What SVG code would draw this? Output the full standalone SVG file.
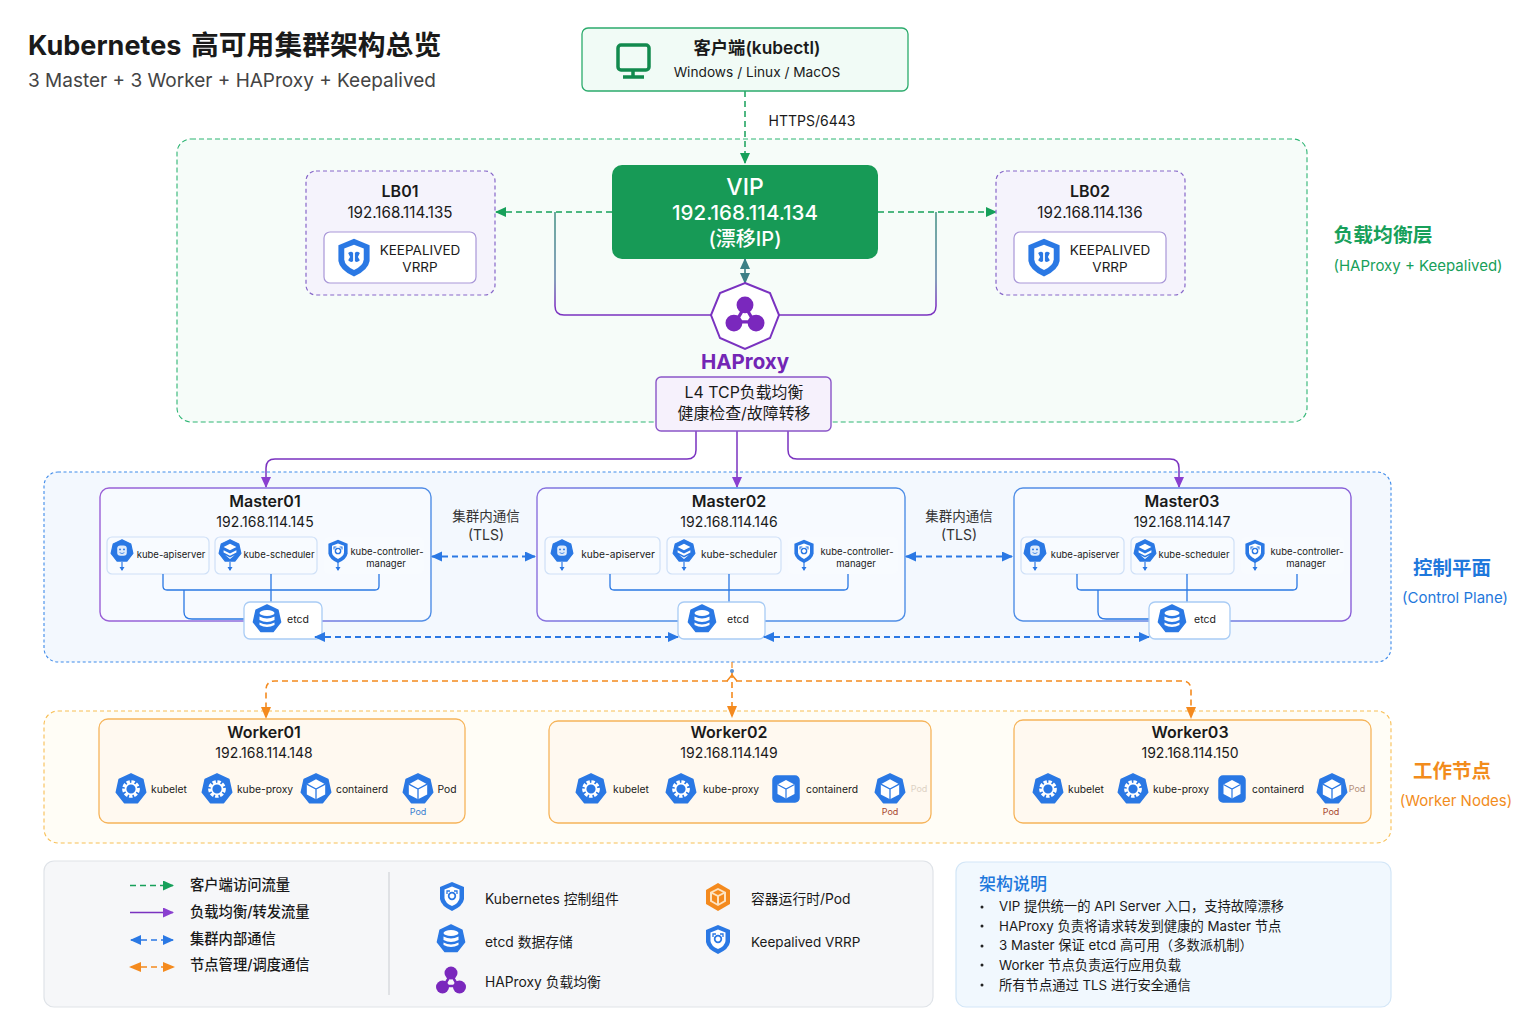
<svg xmlns="http://www.w3.org/2000/svg" width="1536" height="1024" viewBox="0 0 1536 1024">
<style>
text{font-family:"Inter","Noto Sans CJK SC",sans-serif;fill:#1a1a1a;text-anchor:middle}
.title{font-size:16px;font-weight:600}
.ip{font-size:14px}
.lbip{font-size:15.200px}
.kp{font-size:13.500px}
.comp{font-size:9.500px}
.comp2{font-size:10.200px}
.wc{font-size:10.300px}
.etcd{font-size:10.500px}
.lg{font-size:14.300px;text-anchor:start;font-weight:500}
.lg2{font-size:13.800px;text-anchor:start}
.note{font-size:13.300px;text-anchor:start}
.sub{font-size:15px}
.chip{fill:#f8fbff;stroke:#cfe0f7;stroke-width:1.2}
.chip3{fill:#f8fbff;stroke:none}
.etcdbox{fill:#fff;stroke:#a9ccf5;stroke-width:1.3}
.worker{fill:#fff9f0;stroke:#f6b45a;stroke-width:1.3}
.g{fill:none;stroke:#16a05a;stroke-width:1.5;stroke-dasharray:6 4}
.p{fill:none;stroke:#7a32c0;stroke-width:1.500}
.b{fill:none;stroke:#2a78e4;stroke-width:1.8;stroke-dasharray:6 4}
.bs{fill:none;stroke:#2a78e4;stroke-width:1.3}
.o{fill:none;stroke:#f48a1e;stroke-width:1.6;stroke-dasharray:6 4}
</style>
<defs>
<marker id="ag" markerWidth="12" markerHeight="12" refX="10" refY="5" orient="auto-start-reverse" markerUnits="userSpaceOnUse"><path d="M0 0L11 5L0 10Z" fill="#16a05a"/></marker>
<marker id="ap" markerWidth="12" markerHeight="12" refX="10" refY="5" orient="auto-start-reverse" markerUnits="userSpaceOnUse"><path d="M0 0L11 5L0 10Z" fill="#8a3fd0"/></marker>
<marker id="ab" markerWidth="12" markerHeight="12" refX="10" refY="5" orient="auto-start-reverse" markerUnits="userSpaceOnUse"><path d="M0 0L11 5L0 10Z" fill="#2a78e4"/></marker>
<marker id="ao" markerWidth="13" markerHeight="12" refX="10" refY="5" orient="auto-start-reverse" markerUnits="userSpaceOnUse"><path d="M0 0L12 5L0 10Z" fill="#f48a1e"/></marker>
<marker id="at" markerWidth="12" markerHeight="12" refX="10" refY="5" orient="auto-start-reverse" markerUnits="userSpaceOnUse"><path d="M0 0L11 5L0 10Z" fill="#3c7f86"/></marker>
<linearGradient id="m1" x1="0" y1="0" x2="1" y2="0"><stop offset="0" stop-color="#9a5fd6"/><stop offset=".5" stop-color="#8a70de"/><stop offset="1" stop-color="#4f8ee6"/></linearGradient>
<linearGradient id="m2" x1="0" y1="0" x2="1" y2="0"><stop offset="0" stop-color="#8a70de"/><stop offset=".3" stop-color="#4f8ee6"/><stop offset="1" stop-color="#4f8ee6"/></linearGradient>
<linearGradient id="m3" x1="0" y1="0" x2="1" y2="0"><stop offset="0" stop-color="#4f8ee6"/><stop offset=".6" stop-color="#6f82e2"/><stop offset="1" stop-color="#8a60d8"/></linearGradient>
<linearGradient id="tp" gradientUnits="userSpaceOnUse" x1="0" y1="212" x2="0" y2="315"><stop offset="0" stop-color="#3e8f80"/><stop offset=".65" stop-color="#5d7fa6"/><stop offset=".9" stop-color="#7a32c0"/></linearGradient>
<path id="hept" d="M0-14L11-8.700L13.600 3.100L6.100 12.600L-6.100 12.600L-13.600 3.100L-11-8.700Z" fill="#2a78e4" stroke="#2a78e4" stroke-width="1.500" stroke-linejoin="round"/>
<g id="i-gear"><use href="#hept"/><circle r="6.500" fill="none" stroke="#fff" stroke-width="3.400" stroke-dasharray="3 1.400"/><circle r="5" fill="none" stroke="#fff" stroke-width="1.500"/></g>
<g id="i-api"><use href="#hept"/><rect x="-6" y="-7" width="12" height="13" rx="4" fill="#fff" opacity=".85"/><circle cx="-2.500" cy="-2" r="1.200" fill="#2a78e4"/><circle cx="2.500" cy="-2" r="1.200" fill="#2a78e4"/><path d="M-3 2Q0 4.500 3 2" stroke="#2a78e4" fill="none"/></g>
<g id="i-sch"><use href="#hept"/><path d="M0-9L8-5L0-1L-8-5Z" fill="#fff"/><path d="M-8-1L0 3L8-1V2L0 6L-8 2ZM-6 5L0 8L6 5L0 10Z" fill="#fff"/></g>
<g id="i-box"><use href="#hept"/><path d="M0-9L8.500-4.500V5L0 9.500L-8.500 5V-4.500Z" fill="#fff"/><path d="M-8.500-4.500L0 0L8.500-4.500M0 0V9.500" fill="none" stroke="#2a78e4" stroke-width="1.200"/></g>
<g id="i-boxsq"><rect x="-13" y="-13" width="26" height="26" rx="4" fill="#2a78e4" stroke="#2a78e4" stroke-width="1.500"/><path d="M0-9L8.500-4.500V5L0 9.500L-8.500 5V-4.500Z" fill="#fff"/><path d="M-8.500-4.500L0 0L8.500-4.500M0 0V9.500" fill="none" stroke="#2a78e4" stroke-width="1.200"/></g>
<g id="i-db"><use href="#hept"/><ellipse cy="-6" rx="7.500" ry="3" fill="#fff"/><path d="M-7.500-2.500Q0 1.500 7.500-2.500V1Q0 5-7.500 1ZM-7.500 3.500Q0 7.500 7.500 3.500V6Q0 10-7.500 6Z" fill="#fff"/></g>
<g id="i-shield"><path d="M0-14L12-9V3Q11 10 0 15Q-11 10-12 3V-9Z" fill="#2a78e4"/><path d="M0-9.500L7.500-6.500V2Q7 7 0 10Q-7 7-7.500 2V-6.500Z" fill="#fff"/></g>
<g id="i-keep"><use href="#i-shield"/><path d="M-4.500-3Q-2-5-.7-3V3Q-2 5-4.500 2.500L-3 0ZM4.500-3Q2-5 .7-3V3Q2 5 4.500 2.500L3 0Z" fill="#2a78e4"/></g>
<g id="i-ctrl"><use href="#i-shield"/><circle r="3.300" fill="none" stroke="#2a78e4" stroke-width="1.800"/><path d="M-5-2V-5H-2M5-2V-5H2" fill="none" stroke="#2a78e4" stroke-width="1.300"/></g>
<g id="i-hap"><path d="M0-6L-7 6M0-6L7 6M-7 6H7" stroke="#7a28bd" stroke-width="2.500" fill="none"/><circle cy="-7" r="6.500" fill="#7a28bd"/><circle cx="-8.500" cy="7" r="6.500" fill="#7a28bd"/><circle cx="8.500" cy="7" r="6.500" fill="#7a28bd"/></g>
<g id="i-orange"><path d="M0-14L12-7V7L0 14L-12 7V-7Z" fill="#f48a1e"/><path d="M0-9L8-5V4.500L0 9L-8 4.500V-5Z" fill="#fde3c2"/><path d="M-6-3L-1-.500V6.500L-6 3.500ZM6-3L1-.500V6.500L6 3.500ZM0-7L5-4.500L0-2L-5-4.500Z" fill="#f48a1e"/></g>
<g id="i-stem"><path d="M0 11V19" stroke="#2a78e4" stroke-width="1.200"/><path d="M-2.500 16H2.500L0 20Z" fill="#2a78e4"/></g>
</defs>

<rect width="1536" height="1024" fill="#ffffff"/>

<text x="28" y="55" style="font-size:27px;font-weight:700;text-anchor:start">Kubernetes<tspan x="191" style="font-size:27.800px">高可用集群架构总览</tspan></text>
<text x="28" y="87" style="font-size:19px;text-anchor:start;fill:#444">3 Master + 3 Worker + HAProxy + Keepalived</text>

<g id="layers">
<rect id="layer-lb" x="177" y="139" width="1130" height="283" rx="14" fill="#f6fcf9" stroke="#2fb574" stroke-width="1.100" stroke-dasharray="5 3"/>
<rect id="layer-cp" x="44" y="472" width="1347" height="190" rx="14" fill="#f3f8fe" stroke="#3f8bea" stroke-width="1.100" stroke-dasharray="3 2.500"/>
<rect id="layer-wk" x="44" y="711" width="1347" height="132" rx="14" fill="#fffdf6" stroke="#f8bf55" stroke-width="1.100" stroke-dasharray="4 3"/>
</g>
<g id="layer-labels">
<text x="1383" y="242" style="font-size:19.800px;font-weight:700;fill:#17a05a">负载均衡层</text>
<text x="1418" y="271" class="sub" style="fill:#17a05a">(HAProxy + Keepalived)</text>
<text x="1452" y="575" style="font-size:19.500px;font-weight:700;fill:#1f78dc">控制平面</text>
<text x="1455" y="603" class="sub" style="fill:#1f78dc">(Control Plane)</text>
<text x="1452" y="778" style="font-size:19.500px;font-weight:700;fill:#f28c1c">工作节点</text>
<text x="1456" y="806" class="sub" style="fill:#f28c1c">(Worker Nodes)</text>
</g>

<g id="connectors">
<path class="g" d="M745 91V163" marker-end="url(#ag)"/>
<path class="g" d="M612 212H496" marker-end="url(#ag)"/>
<path class="g" d="M878 212H996" marker-end="url(#ag)"/>
<path d="M745 259V283" stroke="#3c7f86" stroke-width="1.600" fill="none" marker-start="url(#at)" marker-end="url(#at)"/>
<path d="M555 212V306Q555 315 564 315H712" fill="none" stroke="url(#tp)" stroke-width="1.500"/>
<path d="M936 212V306Q936 315 927 315H778" fill="none" stroke="url(#tp)" stroke-width="1.500"/>
<path class="p" d="M696 431V450Q696 459 687 459H275Q266 459 266 468V487" marker-end="url(#ap)"/>
<path class="p" d="M737 431V487" marker-end="url(#ap)"/>
<path class="p" d="M788 431V450Q788 459 797 459H1170Q1179 459 1179 468V487" marker-end="url(#ap)"/>
<path class="o" d="M732 672V716" marker-end="url(#ao)"/>
<path class="o" d="M728 681H275Q266 681 266 690V717" marker-end="url(#ao)"/>
<path class="o" d="M736 681H1182Q1191 681 1191 690V717" marker-end="url(#ao)"/>
<path d="M732 662V668" stroke="#f48a1e" stroke-width="1.200"/>
<circle cx="732" cy="671" r="2" fill="#5f93cf"/>
<path d="M727 681L732 675L737 681" fill="none" stroke="#f48a1e" stroke-width="1.500"/>
</g>

<g id="client">
<rect x="582" y="28" width="326" height="63" rx="6" fill="#f1fbf6" stroke="#2bab6c" stroke-width="1.300"/>
<rect x="618" y="45" width="31" height="25" rx="3" fill="none" stroke="#128a4e" stroke-width="3.500"/>
<path d="M633 70V76M623 77H644" stroke="#128a4e" stroke-width="3.500"/>
<text x="757" y="54" style="font-size:17.300px;font-weight:600">客户端(kubectl)</text>
<text x="757" y="77" style="font-size:13.700px">Windows / Linux / MacOS</text>
</g>
<text id="https-label" x="812" y="126" style="font-size:14px">HTTPS/6443</text>

<g id="lb01">
<rect x="306" y="171" width="189" height="124" rx="10" fill="#f5f3fc" stroke="#8767c9" stroke-width="1.200" stroke-dasharray="4 3"/>
<text x="400" y="197" class="title">LB01</text>
<text x="400" y="218" class="lbip">192.168.114.135</text>
<rect x="324" y="232" width="152" height="51" rx="6" fill="#fff" stroke="#a997d8" stroke-width="1.200"/>
<use href="#i-keep" transform="translate(354 257) scale(1.300)"/>
<text x="420" y="255" class="kp">KEEPALIVED</text>
<text x="420" y="272" class="kp">VRRP</text>
</g>
<g id="lb02">
<rect x="996" y="171" width="189" height="124" rx="10" fill="#f5f3fc" stroke="#8767c9" stroke-width="1.200" stroke-dasharray="4 3"/>
<text x="1090" y="197" class="title">LB02</text>
<text x="1090" y="218" class="lbip">192.168.114.136</text>
<rect x="1014" y="232" width="152" height="51" rx="6" fill="#fff" stroke="#a997d8" stroke-width="1.200"/>
<use href="#i-keep" transform="translate(1044 257) scale(1.300)"/>
<text x="1110" y="255" class="kp">KEEPALIVED</text>
<text x="1110" y="272" class="kp">VRRP</text>
</g>
<g id="vip">
<rect x="612" y="165" width="266" height="94" rx="10" fill="#179a56"/>
<text x="745" y="195" style="font-size:23px;font-weight:500;fill:#fff">VIP</text>
<text x="745" y="220" style="font-size:20.500px;font-weight:500;fill:#fff">192.168.114.134</text>
<text x="745" y="246" style="font-size:20px;font-weight:500;fill:#fff">(漂移IP)</text>
</g>
<g id="haproxy">
<path d="M745 283L770 293L779 315L770 338L745 349L720 338L711 315L720 293Z" fill="#fff" stroke="#7a32c0" stroke-width="2"/>
<use href="#i-hap" transform="translate(745 314) scale(1.300)"/>
<text x="745" y="369" style="font-size:20.500px;font-weight:700;fill:#7326b5">HAProxy</text>
<rect x="656" y="377" width="175" height="54" rx="5" fill="#f6f1fc" stroke="#8a55c8" stroke-width="1.400"/>
<text x="744" y="398" style="font-size:15.900px">L4 TCP负载均衡</text>
<text x="744" y="419" style="font-size:15.900px">健康检查/故障转移</text>
</g>

<g id="master01">
<rect x="100" y="488" width="331" height="133" rx="9" fill="#f7faff" stroke="url(#m1)" stroke-width="1.400"/>
<text x="265" y="507" class="title">Master01</text>
<text x="265" y="527" class="ip">192.168.114.145</text>
<rect class="chip" x="107" y="537" width="102" height="37" rx="5"/>
<rect class="chip" x="215" y="537" width="102" height="37" rx="5"/>
<rect class="chip3" x="324" y="537" width="100" height="37" rx="5"/>
<use href="#i-api" transform="translate(122 551) scale(.8)"/><use href="#i-stem" x="122" y="551"/>
<use href="#i-sch" transform="translate(230 551) scale(.8)"/><use href="#i-stem" x="230" y="551"/>
<use href="#i-ctrl" transform="translate(338 551) scale(.8)"/><use href="#i-stem" x="338" y="551"/>
<text x="171" y="558" class="comp">kube-apiserver</text>
<text x="279" y="558" class="comp">kube-scheduler</text>
<text x="387" y="555" class="comp">kube-controller-</text>
<text x="386" y="567" class="comp">manager</text>
</g>
<g id="master02">
<rect x="537" y="488" width="368" height="133" rx="9" fill="#f7faff" stroke="url(#m2)" stroke-width="1.400"/>
<text x="729" y="507" class="title">Master02</text>
<text x="729" y="527" class="ip">192.168.114.146</text>
<rect class="chip" x="545" y="537" width="115" height="37" rx="5"/>
<rect class="chip" x="667" y="537" width="114" height="37" rx="5"/>
<rect class="chip3" x="788" y="537" width="110" height="37" rx="5"/>
<use href="#i-api" transform="translate(562 551) scale(.8)"/><use href="#i-stem" x="562" y="551"/>
<use href="#i-sch" transform="translate(684 551) scale(.8)"/><use href="#i-stem" x="684" y="551"/>
<use href="#i-ctrl" transform="translate(804 551) scale(.8)"/><use href="#i-stem" x="804" y="551"/>
<text x="618" y="558" class="comp2">kube-apiserver</text>
<text x="739" y="558" class="comp2">kube-scheduler</text>
<text x="857" y="555" class="comp">kube-controller-</text>
<text x="856" y="567" class="comp">manager</text>
</g>
<g id="master03">
<rect x="1014" y="488" width="337" height="133" rx="9" fill="#f7faff" stroke="url(#m3)" stroke-width="1.400"/>
<text x="1182" y="507" class="title">Master03</text>
<text x="1182" y="527" class="ip">192.168.114.147</text>
<rect class="chip" x="1021" y="537" width="103" height="37" rx="5"/>
<rect class="chip" x="1131" y="537" width="103" height="37" rx="5"/>
<rect class="chip3" x="1241" y="537" width="103" height="37" rx="5"/>
<use href="#i-api" transform="translate(1035 551) scale(.8)"/><use href="#i-stem" x="1035" y="551"/>
<use href="#i-sch" transform="translate(1145 551) scale(.8)"/><use href="#i-stem" x="1145" y="551"/>
<use href="#i-ctrl" transform="translate(1255 551) scale(.8)"/><use href="#i-stem" x="1255" y="551"/>
<text x="1085" y="558" class="comp">kube-apiserver</text>
<text x="1194" y="558" class="comp">kube-scheduler</text>
<text x="1307" y="555" class="comp">kube-controller-</text>
<text x="1306" y="567" class="comp">manager</text>
</g>

<g id="connectors-inner">
<path class="bs" d="M163 574V586Q163 590 167 590H375Q379 590 379 586V574M271 574V602M184 590V612Q184 619 192 619H244"/>
<path class="bs" d="M610 574V586Q610 590 614 590H844Q848 590 848 586V574M729 574V602"/>
<path class="bs" d="M1077 574V586Q1077 590 1081 590H1293Q1297 590 1297 586V574M1187 574V602M1098 590V612Q1098 619 1106 619H1149"/>
</g>

<g id="master01-etcd">
<rect class="etcdbox" x="244" y="602" width="78" height="37" rx="6"/>
<use href="#i-db" x="267" y="619"/>
<text x="298" y="623" class="etcd">etcd</text>
</g>
<g id="master02-etcd">
<rect class="etcdbox" x="678" y="602" width="87" height="37" rx="6"/>
<use href="#i-db" x="702" y="619"/>
<text x="738" y="623" class="etcd">etcd</text>
</g>
<g id="master03-etcd">
<rect class="etcdbox" x="1149" y="602" width="81" height="37" rx="6"/>
<use href="#i-db" x="1172" y="619"/>
<text x="1205" y="623" class="etcd">etcd</text>
</g>

<g id="cluster-link-labels">
<text x="486" y="521" style="font-size:13.500px;fill:#333">集群内通信</text>
<text x="486" y="540" style="font-size:14px;fill:#333">(TLS)</text>
<text x="959" y="521" style="font-size:13.500px;fill:#333">集群内通信</text>
<text x="959" y="540" style="font-size:14px;fill:#333">(TLS)</text>
</g>
<g id="cluster-links">
<path class="b" d="M432 556.500H535" marker-start="url(#ab)" marker-end="url(#ab)"/>
<path class="b" d="M906 556.500H1012" marker-start="url(#ab)" marker-end="url(#ab)"/>
<path class="b" d="M315 637H678" marker-start="url(#ab)" marker-end="url(#ab)"/>
<path class="b" d="M764 637H1149" marker-start="url(#ab)" marker-end="url(#ab)"/>
</g>

<g id="worker01">
<rect class="worker" x="99" y="719" width="366" height="104" rx="9"/>
<text x="264" y="738" class="title">Worker01</text>
<text x="264" y="758" class="ip">192.168.114.148</text>
<use href="#i-gear" transform="translate(131 789) scale(1.080)"/><text x="169" y="793" class="wc">kubelet</text>
<use href="#i-gear" transform="translate(217 789) scale(1.080)"/><text x="265" y="793" class="wc">kube-proxy</text>
<use href="#i-box" transform="translate(316 789) scale(1.080)"/><text x="362" y="793" class="wc">containerd</text>
<use href="#i-box" transform="translate(418 789) scale(1.080)"/><text x="447" y="793" class="wc">Pod</text>
<text x="418" y="815" style="font-size:9px;fill:#3a7fd0">Pod</text>
</g>
<g id="worker02">
<rect class="worker" x="549" y="721" width="382" height="102" rx="9"/>
<text x="729" y="738" class="title">Worker02</text>
<text x="729" y="758" class="ip">192.168.114.149</text>
<use href="#i-gear" transform="translate(591 789) scale(1.080)"/><text x="631" y="793" class="wc">kubelet</text>
<use href="#i-gear" transform="translate(681 789) scale(1.080)"/><text x="731" y="793" class="wc">kube-proxy</text>
<use href="#i-boxsq" transform="translate(786 789)"/><text x="832" y="793" class="wc">containerd</text>
<use href="#i-box" transform="translate(890 789) scale(1.080)"/><text x="919" y="792" style="font-size:9px;fill:#ddd2c4">Pod</text>
<text x="890" y="815" style="font-size:9px;fill:#a8482f">Pod</text>
</g>
<g id="worker03">
<rect class="worker" x="1014" y="720" width="357" height="103" rx="9"/>
<text x="1190" y="738" class="title">Worker03</text>
<text x="1190" y="758" class="ip">192.168.114.150</text>
<use href="#i-gear" transform="translate(1048 789) scale(1.080)"/><text x="1086" y="793" class="wc">kubelet</text>
<use href="#i-gear" transform="translate(1133 789) scale(1.080)"/><text x="1181" y="793" class="wc">kube-proxy</text>
<use href="#i-boxsq" transform="translate(1232 789)"/><text x="1278" y="793" class="wc">containerd</text>
<use href="#i-box" transform="translate(1332 789) scale(1.080)"/><text x="1357" y="792" style="font-size:9px;fill:#b58f7a">Pod</text>
<text x="1331" y="815" style="font-size:9px;fill:#a8482f">Pod</text>
</g>

<g id="legend">
<rect x="44" y="861" width="889" height="146" rx="10" fill="#f6f7f9" stroke="#dfe3e8" stroke-width="1.200"/>
<path d="M389 872V995" stroke="#c9ccd1" stroke-width="1"/>
<path class="g" d="M130 885.500H173" marker-end="url(#ag)"/>
<path class="p" d="M130 912.500H173" marker-end="url(#ap)"/>
<path class="b" d="M131 940H173" marker-start="url(#ab)" marker-end="url(#ab)" style="stroke-width:1.500"/>
<path class="o" d="M131 967H173" marker-start="url(#ao)" marker-end="url(#ao)" style="stroke-width:1.500"/>
<text class="lg" x="190" y="890">客户端访问流量</text>
<text class="lg" x="190" y="917">负载均衡/转发流量</text>
<text class="lg" x="190" y="944">集群内部通信</text>
<text class="lg" x="190" y="970">节点管理/调度通信</text>
<use href="#i-ctrl" x="452" y="896"/>
<use href="#i-db" x="451" y="939"/>
<use href="#i-hap" x="451" y="980"/>
<text class="lg2" x="485" y="904">Kubernetes 控制组件</text>
<text class="lg2" x="485" y="947">etcd 数据存储</text>
<text class="lg2" x="485" y="987">HAProxy 负载均衡</text>
<use href="#i-orange" x="718" y="897"/>
<use href="#i-ctrl" x="718" y="939"/>
<text class="lg2" x="751" y="904">容器运行时/Pod</text>
<text class="lg2" x="751" y="947" style="font-size:13.500px">Keepalived VRRP</text>
</g>
<g id="notes">
<rect x="956" y="862" width="435" height="145" rx="10" fill="#f1f8fe" stroke="#d3e6f7" stroke-width="1.200"/>
<text x="979" y="890" style="font-size:17px;font-weight:500;fill:#1f78dc;text-anchor:start">架构说明</text>
<circle cx="982" cy="907" r="1.500" fill="#222"/><text class="note" x="999" y="911">VIP 提供统一的 API Server 入口，支持故障漂移</text>
<circle cx="982" cy="926" r="1.500" fill="#222"/><text class="note" x="999" y="931">HAProxy 负责将请求转发到健康的 Master 节点</text>
<circle cx="982" cy="946" r="1.500" fill="#222"/><text class="note" x="999" y="950">3 Master 保证 etcd 高可用（多数派机制）</text>
<circle cx="982" cy="965" r="1.500" fill="#222"/><text class="note" x="999" y="970">Worker 节点负责运行应用负载</text>
<circle cx="982" cy="985" r="1.500" fill="#222"/><text class="note" x="999" y="990">所有节点通过 TLS 进行安全通信</text>
</g>
</svg>
